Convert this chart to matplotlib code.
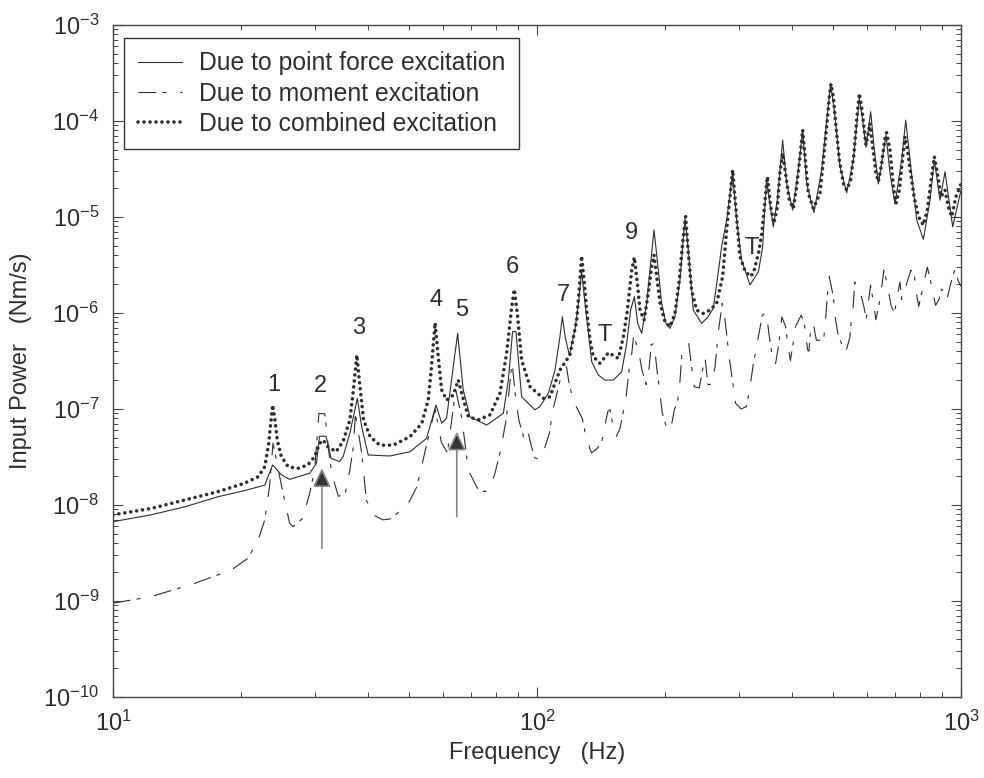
import matplotlib.pyplot as plt
import matplotlib.ticker as ticker

plt.rcParams['font.family'] = ['Liberation Sans', 'DejaVu Sans']
plt.rcParams['mathtext.fontset'] = 'custom'
plt.rcParams['mathtext.rm'] = 'Liberation Sans'
plt.rcParams['mathtext.default'] = 'regular'
plt.rcParams['axes.unicode_minus'] = False

# point force excitation (solid)
force_freq = [10, 12.3, 14.8, 17.7, 20.4, 22.8, 23.8, 25.0, 26.1, 29.1, 30.2, 30.7, 31.8, 32.7,
              34.2, 34.9, 36.2, 37.7, 38.6, 40.0, 45.0, 50.2, 54.9, 57.8, 59.6, 61.2, 65.0, 67.0,
              69.5, 76.1, 83.3, 85.6, 87.6, 89.2, 92.0, 98.9, 101.6, 106.4, 110.3, 113.3, 114.8,
              116.5, 119.2, 122.9, 125.8, 127.4, 129.8, 134.6, 139.5, 144.6, 151.4, 158.4, 162.8,
              166.3, 169.7, 172.8, 176.6, 181.4, 185.4, 188.8, 192.2, 196.8, 201.5, 205.9, 211.6,
              217.4, 223.4, 227.5, 233.7, 244.5, 253.5, 260.5, 266.2, 272.6, 280.1, 289.4, 295.8,
              303.9, 318, 333, 340.6, 343.7, 348, 353.2, 360.9, 368.8, 379.7, 388, 400.9, 413.4,
              423.3, 432.5, 450, 469.3, 482.2, 492.8, 504.5, 518.4, 537.6, 557.4, 575.8, 586.3,
              597, 612.4, 623.6, 638.5, 665.6, 680.2, 698.9, 724.8, 740.8, 758.4, 786.4, 815.3,
              845.3, 865.4, 892.4, 917, 956, 1000]
force_power = [6.7e-9, 7.9e-9, 9.6e-9, 1.22e-8, 1.41e-8, 1.61e-8, 2.61e-8, 2.05e-8, 1.85e-8,
               2.14e-8, 2.72e-8, 5.2e-8, 5.2e-8, 3.06e-8, 2.83e-8, 3.19e-8, 5.6e-8, 1.29e-7,
               6.55e-8, 3.32e-8, 3.24e-8, 3.59e-8, 4.94e-8, 1.1e-7, 7.1e-8, 8.0e-8, 6.14e-7,
               1.58e-7, 8.3e-8, 6.8e-8, 9.0e-8, 2.0e-7, 6.4e-7, 6.4e-7, 1.34e-7, 9.8e-8, 1.06e-7,
               1.46e-7, 2.55e-7, 5.67e-7, 9.16e-7, 5.67e-7, 3.65e-7, 6.65e-7, 1.48e-6, 2.8e-6,
               1.26e-6, 3.11e-7, 2.26e-7, 2.0e-7, 2.0e-7, 2.45e-7, 4.83e-7, 1.07e-6, 1.48e-6,
               7.8e-7, 6.14e-7, 1.26e-6, 3.29e-6, 7.32e-6, 3.56e-6, 1.26e-6, 7.8e-7, 6.92e-7,
               9.16e-7, 2.21e-6, 9.68e-6, 4.53e-6, 1.07e-6, 7.8e-7, 9.16e-7, 1.12e-6, 2.21e-6,
               4.91e-6, 9.3e-6, 2.85e-5, 9.3e-6, 3.56e-6, 1.96e-6, 2.7e-6, 4.9e-6, 1.0e-5,
               2.43e-5, 1.5e-5, 7.9e-6, 1.5e-5, 6.34e-5, 2.24e-5, 1.18e-5, 3.09e-5, 8.05e-5,
               2.24e-5, 1.11e-5, 3.09e-5, 1.02e-4, 2.47e-4, 1.11e-4, 3.34e-5, 1.79e-5, 3.93e-5,
               1.72e-4, 1.02e-4, 5.32e-5, 1.25e-4, 5.4e-5, 2.21e-5, 7.14e-5, 2.85e-5, 1.37e-5,
               3.93e-5, 1.02e-4, 3.93e-5, 9.3e-6, 5.85e-6, 1.5e-5, 3.93e-5, 1.5e-5, 2.96e-5,
               7.9e-6, 1.9e-5]

# moment excitation (dashed)
moment_freq = [10, 12.3, 15.6, 19.0, 20.8, 22.0, 22.8, 23.4, 23.85, 25.0, 26.1, 26.6, 28.0, 29.1,
               29.9, 30.6, 31.6, 32.3, 32.8, 34.0, 35.3, 36.2, 36.9, 37.3, 38.6, 39.6, 41.1, 43.3,
               45.4, 49.8, 52.1, 54.8, 57.5, 59.5, 61.5, 64.3, 66.5, 68.9, 72.7, 75.5, 78.2, 79.6,
               81.8, 84.6, 87.3, 89, 90.6, 93.6, 95.4, 97, 98.8, 101, 103.4, 107, 109, 111, 114,
               117.4, 119.4, 123, 128, 130, 133.2, 134.5, 138, 142, 145.5, 147, 148.8, 151.7, 154,
               157, 162, 165, 167, 169, 171, 174, 177, 181, 184, 186, 189, 191.5, 197.6, 203, 207,
               211, 214, 216.7, 220, 228, 231, 235, 241.5, 249, 253, 258, 263, 268, 273.6, 276,
               284, 294, 303, 312, 318, 324, 333, 340, 348, 352, 357, 359, 365, 372, 378, 386, 390,
               396, 403, 407, 420, 427, 435, 438, 443, 450, 456, 471, 475, 480, 484, 489, 500, 505,
               512, 519, 534, 547, 552, 556, 562, 580, 590, 598, 612, 620, 630, 645, 658, 667, 685,
               697, 712, 718, 725, 732, 762, 777, 785, 795, 833, 847, 871, 887, 900, 915, 925, 955,
               973, 983, 1000]
moment_power = [9.5e-10, 1.11e-9, 1.53e-9, 2.1e-9, 2.78e-9, 4.32e-9, 6.98e-9, 1.55e-8, 4.4e-8,
                1.55e-8, 6.46e-9, 5.94e-9, 7.24e-9, 1.32e-8, 2.32e-8, 9.0e-8, 8.9e-8, 3.55e-8,
                2.14e-8, 1.23e-8, 1.32e-8, 2.31e-8, 4.06e-8, 9.0e-8, 3.47e-8, 1.12e-8, 7.9e-9,
                7.0e-9, 7.2e-9, 1.05e-8, 1.55e-8, 4.07e-8, 1.0e-7, 4.5e-8, 3.5e-8, 1.6e-7, 8e-8,
                2.3e-8, 1.43e-8, 1.38e-8, 1.68e-8, 2.14e-8, 3.47e-8, 7.7e-8, 3.1e-7, 1.35e-7,
                7.7e-8, 4.6e-8, 5.6e-8, 4.1e-8, 3.1e-8, 3.0e-8, 3.5e-8, 5.6e-8, 9.8e-8, 1.35e-7,
                2.2e-7, 2.75e-7, 1.7e-7, 1.12e-7, 7.9e-8, 5.6e-8, 3.9e-8, 3.5e-8, 3.8e-8, 4.4e-8,
                7.7e-8, 9.5e-8, 9.8e-8, 6.0e-8, 5.2e-8, 6.3e-8, 1.26e-7, 2.6e-7, 3.5e-7, 5.7e-7,
                5.0e-7, 3.8e-7, 2.5e-7, 1.8e-7, 2.75e-7, 4.7e-7, 4.8e-7, 2.75e-7, 9.0e-8, 6.0e-8,
                6.3e-8, 1.0e-7, 1.12e-7, 1.6e-7, 4.1e-7, 4.8e-7, 3.0e-7, 1.7e-7, 1.66e-7, 3.5e-7,
                1.8e-7, 1.8e-7, 2.75e-7, 6.6e-7, 1.26e-6, 1.07e-6, 3.5e-7, 1.15e-7, 1.0e-7,
                1.06e-7, 1.7e-7, 3.0e-7, 5.7e-7, 9.5e-7, 1.0e-6, 6.3e-7, 4.1e-7, 3.5e-7, 2.9e-7,
                4.8e-7, 9.1e-7, 7.2e-7, 4.8e-7, 3.2e-7, 5.2e-7, 7.2e-7, 9.5e-7, 7.8e-7, 4.1e-7,
                4.0e-7, 7.8e-7, 7.2e-7, 5.2e-7, 5.2e-7, 5.6e-7, 9.1e-7, 1.55e-6, 2.4e-6, 1.48e-6,
                9.1e-7, 6.2e-7, 5.2e-7, 3.8e-7, 5.6e-7, 9.1e-7, 1.07e-6, 2.1e-6, 1.6e-6, 1.17e-6,
                8.7e-7, 1.95e-6, 1.38e-6, 8.5e-7, 1.41e-6, 2.8e-6, 2.2e-6, 1.17e-6, 1.0e-6,
                1.74e-6, 2.1e-6, 1.38e-6, 1.58e-6, 2.8e-6, 2.4e-6, 1.6e-6, 1.17e-6, 3.0e-6, 2.2e-6,
                1.2e-6, 1.38e-6, 1.78e-6, 1.58e-6, 1.35e-6, 2.4e-6, 3.0e-6, 2.2e-6, 1.9e-6]

# combined excitation (dotted)
combined_freq = [10, 12.3, 14.8, 17.7, 20.4, 22.0, 22.8, 23.3, 23.55, 23.8, 24.1, 24.4, 24.95,
                 25.9, 27.3, 28.8, 29.9, 30.7, 31.3, 32.1, 33.6, 34.9, 36.2, 36.9, 37.6, 38.1,
                 39.0, 40.4, 42.6, 45.8, 50.2, 53.5, 55.4, 56.4, 57.5, 58.5, 59.6, 61.2, 63.5,
                 65.2, 66.8, 68.9, 72.7, 77.5, 81.8, 84.8, 87.2, 88.4, 89.9, 92.0, 96.3, 103.5,
                 107.3, 113.3, 119.6, 124.1, 126.3, 127.4, 129.1, 131.0, 133.4, 135.8, 140.8,
                 147.4, 155.6, 159.9, 163.4, 167.3, 169.7, 172.5, 175.0, 178.9, 183.0, 186.4,
                 188.8, 191.6, 195.1, 200.4, 205.9, 211.6, 216.6, 221.3, 224.2, 227.5, 231.6,
                 238.0, 246.8, 255.9, 265.3, 274.1, 280.1, 286.2, 289.4, 294.7, 301, 309, 318,
                 324, 333, 339, 345, 349.5, 355.8, 362, 369, 374, 379.7, 386.6, 393.7, 402.4,
                 409.7, 417.2, 423.3, 429.5, 436.5, 448.5, 465, 473.6, 482.2, 489.3, 493.7, 500,
                 507.3, 516.6, 528, 537.6, 549.4, 559.4, 567.5, 575.8, 584.2, 592.8, 597, 604.7,
                 610.1, 619, 630.4, 638.5, 650.2, 660.7, 667.9, 680.2, 692.7, 702.7, 715.6, 728.8,
                 738, 747.5, 761, 775, 793.5, 815.3, 833, 848.4, 865.4, 879.7, 897.4, 917, 933.5,
                 950.6, 973.2, 1000]
combined_power = [7.9e-9, 9.2e-9, 1.13e-8, 1.38e-8, 1.68e-8, 1.97e-8, 2.5e-8, 4.38e-8, 7.1e-8,
                  1.1e-7, 7.68e-8, 4.75e-8, 3.19e-8, 2.5e-8, 2.41e-8, 2.61e-8, 3.19e-8, 4.38e-8,
                  4.75e-8, 4.06e-8, 3.59e-8, 4.6e-8, 7.7e-8, 1.58e-7, 3.65e-7, 2.0e-7, 7.7e-8,
                  5.15e-8, 4.2e-8, 4.2e-8, 5.15e-8, 7.1e-8, 1.24e-7, 2.76e-7, 7.9e-7, 3.5e-7,
                  1.58e-7, 1.24e-7, 1.4e-7, 2.0e-7, 1.34e-7, 8.3e-8, 7.7e-8, 8.7e-8, 1.46e-7,
                  3.8e-7, 1.16e-6, 1.76e-6, 9.9e-7, 3.24e-7, 1.71e-7, 1.29e-7, 1.34e-7, 2.55e-7,
                  3.65e-7, 8.45e-7, 2.21e-6, 3.93e-6, 2.21e-6, 1.07e-6, 5.24e-7, 3.51e-7, 2.99e-7,
                  3.86e-7, 3.37e-7, 5.67e-7, 1.07e-6, 2.8e-6, 3.8e-6, 2.04e-6, 1.07e-6, 8.45e-7,
                  1.6e-6, 3.04e-6, 4.02e-6, 2.39e-6, 1.26e-6, 8.1e-7, 7.2e-7, 9.9e-7, 2.21e-6,
                  6.24e-6, 1.01e-5, 4.18e-6, 1.74e-6, 1.07e-6, 9.9e-7, 1.07e-6, 1.26e-6, 2.39e-6,
                  7.32e-6, 1.91e-5, 3.09e-5, 1.18e-5, 3.9e-6, 2.8e-6, 2.4e-6, 2.59e-6, 4.18e-6,
                  6.76e-6, 1.5e-5, 2.63e-5, 1.28e-5, 8.6e-6, 1.28e-5, 2.85e-5, 4.6e-5, 2.63e-5,
                  1.5e-5, 1.23e-5, 2.07e-5, 4.25e-5, 8.05e-5, 3.93e-5, 1.76e-5, 1.23e-5, 1.76e-5,
                  3.93e-5, 8.7e-5, 1.79e-4, 2.43e-4, 1.79e-4, 8.7e-5, 3.93e-5, 2.24e-5, 1.91e-5,
                  2.43e-5, 4.6e-5, 1.02e-4, 1.94e-4, 1.3e-4, 7.44e-5, 5.62e-5, 7.44e-5, 9.46e-5,
                  5.4e-5, 2.85e-5, 2.33e-5, 3.62e-5, 6.34e-5, 7.56e-5, 4.99e-5, 2.07e-5, 1.39e-5,
                  1.91e-5, 4.25e-5, 6.87e-5, 4.99e-5, 2.85e-5, 1.63e-5, 1.01e-5, 8.25e-6, 1.18e-5,
                  2.24e-5, 4.25e-5, 2.85e-5, 1.63e-5, 1.91e-5, 1.28e-5, 1.01e-5, 1.63e-5, 2.2e-5]

# mode labels
mode_text = ['1', '2', '3', '4', '5', '6', '7', 'T', '9', 'T']
mode_freq = [24.0, 30.9, 37.9, 57.8, 66.4, 87.6, 115.4, 144.6, 167.3, 320.9]
mode_power = [1.78e-7, 1.74e-7, 6.9e-7, 1.37e-6, 1.07e-6, 3.04e-6, 1.54e-6, 5.9e-7, 6.76e-6, 4.72e-6]

# arrows
arrow_freq = [31.1, 64.7]
arrow_tip = [2.41e-8, 5.8e-8]
arrow_base = [3.54e-9, 7.55e-9]

ink = '#2e2e2e'
fs = 17

fig = plt.figure(figsize=(9.84, 7.78), dpi=100)
ax = fig.add_axes([0.1148, 0.1041, 0.8618, 0.8638])

ax.plot(force_freq, force_power, color=ink, lw=0.8,
        label='Due to point force excitation')
ax.plot(moment_freq, moment_power, color=ink, lw=0.8, linestyle=(0, (16, 5.5, 3.6, 12.5)),
        label='Due to moment excitation')
ax.plot(combined_freq, combined_power, color=ink, lw=2.6, linestyle=(0, (0.01, 1.65)),
        dash_capstyle='round', label='Due to combined excitation')

ax.set_xscale('log')
ax.set_yscale('log')
ax.set_xlim(10, 1000)
ax.set_ylim(1e-10, 1e-3)
ax.yaxis.set_major_locator(ticker.LogLocator(base=10, numticks=20))
ax.yaxis.set_minor_locator(ticker.LogLocator(base=10, subs=range(2, 10), numticks=20))
ax.yaxis.set_minor_formatter(ticker.NullFormatter())
ax.xaxis.set_minor_formatter(ticker.NullFormatter())

ax.tick_params(which='both', direction='in', top=True, right=True, colors='#444',
               labelcolor=ink, labelsize=fs)
ax.tick_params(which='major', length=7, width=0.8, pad=10)
ax.tick_params(which='minor', length=3.5, width=0.7)
for s in ax.spines.values():
    s.set_color('#444')
    s.set_linewidth(1.0)

ax.set_xlabel('Frequency   (Hz)', fontsize=fs, color=ink, labelpad=4)
ax.set_ylabel('Input Power   (Nm/s)', fontsize=fs, color=ink, labelpad=8)

for s, f, p in zip(mode_text, mode_freq, mode_power):
    ax.text(f, p, s, ha='center', va='center', fontsize=fs, color=ink)

for f, t, b in zip(arrow_freq, arrow_tip, arrow_base):
    ax.annotate('', xy=(f, t), xytext=(f, b),
                arrowprops=dict(arrowstyle='-|>,head_length=1.15,head_width=0.55',
                                facecolor='#333', edgecolor='#888', lw=1.2,
                                shrinkA=0, shrinkB=0))

leg = ax.legend(loc='upper left', bbox_to_anchor=(0.013, 0.981), borderaxespad=0,
                fancybox=False, edgecolor='#333', framealpha=1, fontsize=17.8,
                handlelength=1.8, handletextpad=0.7, borderpad=0.55, labelspacing=0.25)
leg.get_frame().set_linewidth(1.0)
for t in leg.get_texts():
    t.set_color(ink)

plt.savefig('out.png', dpi=100)
print('done')
